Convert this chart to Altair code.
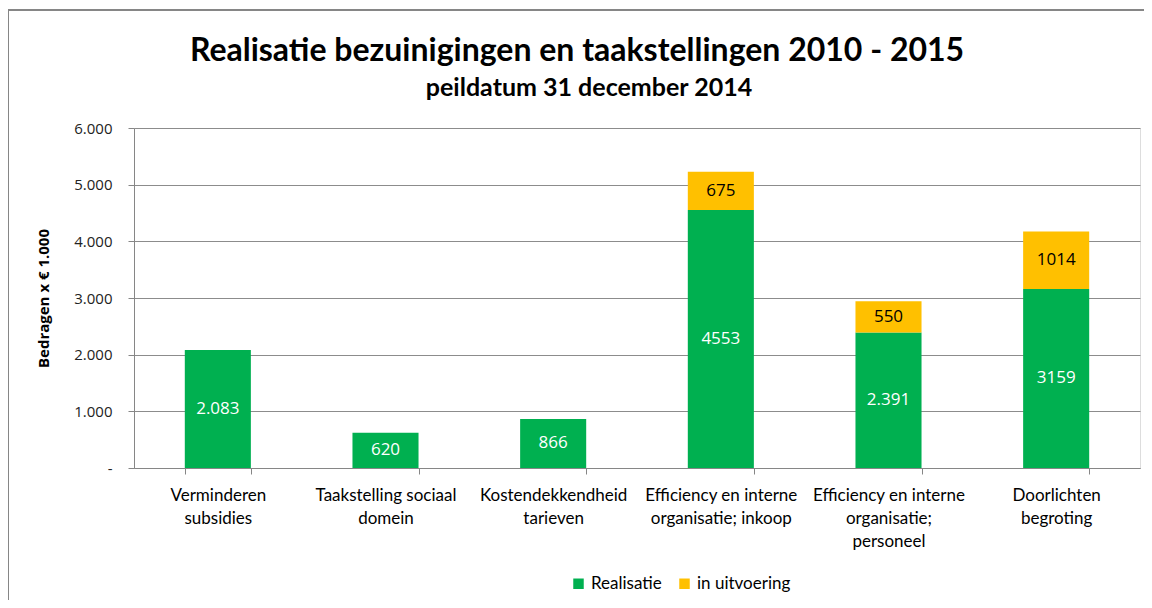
import altair as alt
import pandas as pd

categories = [
    "Verminderen\nsubsidies",
    "Taakstelling sociaal\ndomein",
    "Kostendekkendheid\ntarieven",
    "Efficiency en interne\norganisatie; inkoop",
    "Efficiency en interne\norganisatie;\npersoneel",
    "Doorlichten\nbegroting",
]
realisatie = [2083, 620, 866, 4553, 2391, 3159]
realisatie_labels = ["2.083", "620", "866", "4553", "2.391", "3159"]
uitvoering = [0, 0, 0, 675, 550, 1014]
uitvoering_labels = ["", "", "", "675", "550", "1014"]
series = ["Realisatie", "in uitvoering"]
colors = ["#00B050", "#FFC000"]
title_text = "Realisatie bezuinigingen en taakstellingen 2010 - 2015"
subtitle_text = "peildatum 31 december 2014"

rows = []
for i, c in enumerate(categories):
    rows.append(dict(cat=c, serie=series[0], y0=0, y1=realisatie[i],
                     label=realisatie_labels[i], tc="white", order=0))
    if uitvoering[i] > 0:
        rows.append(dict(cat=c, serie=series[1], y0=realisatie[i],
                         y1=realisatie[i] + uitvoering[i],
                         label=uitvoering_labels[i], tc="black", order=1))
df = pd.DataFrame(rows)
df["mid"] = (df["y0"] + df["y1"]) / 2

FONT = "Lato, sans-serif"

xenc = alt.X(
    "cat:N", sort=categories, title=None,
    scale=alt.Scale(paddingInner=0.606, paddingOuter=0.303),
    axis=alt.Axis(
        labelAngle=0, labelExpr="split(datum.label, '\\n')",
        labelFont=FONT, labelFontSize=17, labelColor="black",
        labelLineHeight=23, labelPadding=13, labelBaseline="top",
        tickBand="extent", tickSize=6, tickColor="#868686",
        domainColor="#868686", labelLimit=300,
    ),
)

bars = alt.Chart(df).mark_bar().encode(
    x=xenc,
    y=alt.Y(
        "y0:Q", title="Bedragen x € 1.000",
        scale=alt.Scale(domain=[0, 6000], nice=False),
        axis=alt.Axis(
            values=[0, 1000, 2000, 3000, 4000, 5000, 6000],
            labelExpr="datum.value == 0 ? '-' : replace(format(datum.value, ','), ',', '.')",
            labelFont="Open Sans, sans-serif", labelFontSize=15, labelColor="#222222",
            labelPadding=16, tickSize=6, tickColor="#868686", domainColor="#868686",
            gridColor="#8c8c8c", gridWidth=1,
            titleFont="Open Sans, sans-serif", titleFontSize=15, titleFontWeight="bold",
            titleColor="black", titlePadding=22,
        ),
    ),
    y2="y1:Q",
    color=alt.Color(
        "serie:N", scale=alt.Scale(domain=series, range=colors),
        legend=alt.Legend(
            title=None, orient="none", direction="horizontal",
            legendX=436, legendY=447, symbolType="square", symbolSize=110,
            symbolStrokeWidth=0, labelFont=FONT, labelFontSize=17,
            labelColor="black", columnPadding=14, labelOffset=4,
        ),
    ),
    order="order:Q",
)

texts = alt.Chart(df).mark_text(
    font="Open Sans, sans-serif", fontSize=17, baseline="middle"
).encode(
    x=alt.X("cat:N", sort=categories),
    y="mid:Q",
    text="label:N",
    color=alt.Color("tc:N", scale=None),
)

one = pd.DataFrame({"a": [0]})
border = alt.Chart(one).mark_rule(color="#868686", strokeWidth=2).encode(
    x=alt.value(-126), x2=alt.value(1020), y=alt.value(-118)
)
border2 = alt.Chart(one).mark_rule(color="#868686", strokeWidth=2).encode(
    x=alt.value(-126), y=alt.value(-118), y2=alt.value(480)
)
title_mark = alt.Chart(pd.DataFrame({"t": [title_text]})).mark_text(
    font=FONT, fontSize=32, fontWeight="bold", color="black", align="center", baseline="alphabetic"
).encode(text="t:N", x=alt.value(443), y=alt.value(-67))
subtitle_mark = alt.Chart(pd.DataFrame({"t": [subtitle_text]})).mark_text(
    font=FONT, fontSize=25, fontWeight="bold", color="black", align="center", baseline="alphabetic"
).encode(text="t:N", x=alt.value(455), y=alt.value(-32))

chart = (
    alt.layer(bars, texts, border, border2, title_mark, subtitle_mark)
    .properties(
        width=1006, height=340,
        padding={"left": 126, "top": 120, "right": 4, "bottom": 132},
        autosize=alt.AutoSizeParams(type="none"),
    )
    .configure_view(stroke=None)
    .configure(background="white")
)

chart.save("out.html", embed_options={"renderer": "svg", "actions": False})
